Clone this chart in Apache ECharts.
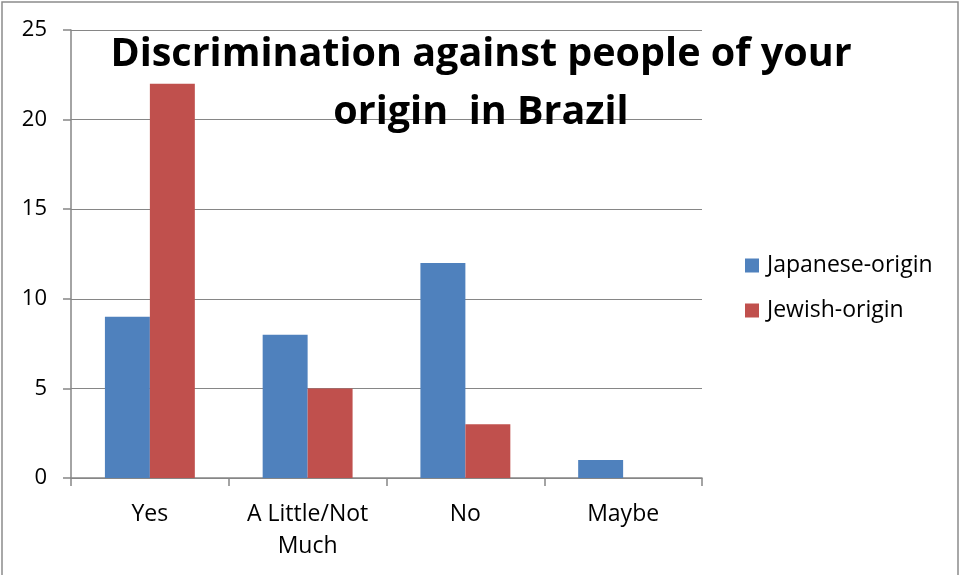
<!DOCTYPE html>
<html>
<head>
<meta charset="utf-8">
<script src="https://cdn.jsdelivr.net/npm/echarts@6/dist/echarts.min.js"></script>
<style>
  html, body { margin: 0; padding: 0; background: #fff; }
  #chart { width: 962px; height: 575px; }
</style>
</head>
<body>
<div id="chart"></div>
<script>
// Survey answers by origin group
const categories = ['Yes', 'A Little/Not\nMuch', 'No', 'Maybe'];
const japaneseOrigin = [9, 8, 12, 1];
const jewishOrigin = [22, 5, 3, 0];
const seriesNames = ['Japanese-origin', 'Jewish-origin'];

const FONT = '"Open Sans", Lato, sans-serif';
const chart = echarts.init(document.getElementById('chart'));

chart.setOption({
  animation: false,
  backgroundColor: '#fff',
  title: {
    text: 'Discrimination against people of your\norigin  in Brazil',
    left: 'center',
    top: 21,
    textStyle: {
      fontFamily: FONT,
      fontWeight: 'bold',
      fontSize: 39.5,
      lineHeight: 58,
      color: '#000'
    }
  },
  legend: {
    orient: 'vertical',
    left: 740,
    top: 249,
    itemWidth: 14,
    itemHeight: 14,
    itemGap: 22,
    icon: 'rect',
    textStyle: { fontFamily: FONT, fontSize: 23, color: '#000', padding: [0, 0, 0, 3] },
    data: seriesNames
  },
  grid: { left: 71, right: 260, top: 30, bottom: 97, containLabel: false },
  xAxis: {
    type: 'category',
    data: categories,
    axisLine: { lineStyle: { color: '#868686', width: 1.5 } },
    axisTick: { show: true, length: 8, lineStyle: { color: '#868686', width: 1.5 } },
    axisLabel: {
      fontFamily: FONT, fontSize: 23, color: '#000',
      lineHeight: 32, margin: 20
    }
  },
  yAxis: {
    type: 'value',
    min: 0, max: 25, interval: 5,
    axisLine: { show: true, lineStyle: { color: '#868686', width: 1.5 } },
    axisTick: { show: true, inside: false, length: 8, lineStyle: { color: '#868686', width: 1.5 } },
    splitLine: { lineStyle: { color: '#868686', width: 1.2 } },
    axisLabel: { fontFamily: FONT, fontSize: 22, color: '#000', margin: 24 }
  },
  series: [
    {
      name: seriesNames[0], type: 'bar', data: japaneseOrigin,
      barGap: '0%', barCategoryGap: '43%',
      itemStyle: { color: '#4F81BD' }
    },
    {
      name: seriesNames[1], type: 'bar', data: jewishOrigin,
      barGap: '0%', barCategoryGap: '43%',
      itemStyle: { color: '#C0504D' }
    }
  ],
  graphic: [
    {
      type: 'rect',
      shape: { x: 2, y: 2, width: 956, height: 600 },
      style: { fill: 'none', stroke: '#8c8c8c', lineWidth: 1.5 },
      silent: true
    }
  ]
});
</script>
</body>
</html>
